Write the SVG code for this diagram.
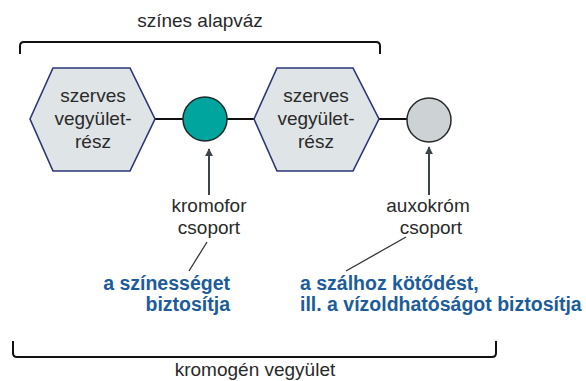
<svg xmlns="http://www.w3.org/2000/svg" width="586" height="381" viewBox="0 0 586 381">
<defs>
<style>
.lbl{font-family:"Liberation Sans",Arial,sans-serif;font-size:19px;fill:#2a2a2a;text-anchor:middle}
.blue{font-family:"Liberation Sans",Arial,sans-serif;font-size:19.5px;font-weight:bold;fill:#1d5c9b}
.hex{fill:#dfe4e6;stroke:#2b3577;stroke-width:1.6}
.br{fill:none;stroke:#111;stroke-width:2}
.con{stroke:#111;stroke-width:2}
.arr{stroke:#3b4549;stroke-width:2;fill:none}
.lead{stroke:#333;stroke-width:1.3}
</style>
<marker id="ah" viewBox="0 0 10 10" refX="9" refY="5" markerWidth="4" markerHeight="4" orient="auto" markerUnits="strokeWidth">
<path d="M0,0 L10,5 L0,10 z" fill="#3b4549"/>
</marker>
</defs>
<rect width="586" height="381" fill="#fff"/>
<g id="brackets">
<path class="br" d="M20,54 V46 Q20,42 24,42 H376 Q380,42 380,46 V54"/>
<text class="lbl" x="200" y="27">színes alapváz</text>
<path class="br" d="M13,341 V353 Q13,357 17,357 H492 Q496,357 496,353 V341"/>
<text class="lbl" x="255" y="376">kromogén vegyület</text>
</g>
<g id="connectors">
<line class="con" x1="155" y1="119" x2="183" y2="119"/>
<line class="con" x1="227" y1="119" x2="254" y2="119"/>
<line class="con" x1="379" y1="119" x2="407" y2="119"/>
<line class="arr" x1="209" y1="195" x2="209" y2="149" marker-end="url(#ah)"/>
<line class="arr" x1="429" y1="195" x2="429" y2="147" marker-end="url(#ah)"/>
<line class="lead" x1="207" y1="242" x2="189" y2="271"/>
<line class="lead" x1="406" y1="237" x2="346" y2="271"/>
</g>
<g id="hex1">
<polygon class="hex" points="30,119 53,68 130,68 155,119 130,171 53,171"/>
<text class="lbl" x="93" y="102">szerves</text>
<text class="lbl" x="93" y="125">vegyület-</text>
<text class="lbl" x="93" y="148">rész</text>
</g>
<g id="chromophore">
<circle cx="205" cy="119" r="22" fill="#00a59e" stroke="#1c2b2b" stroke-width="1.5"/>
</g>
<g id="hex2">
<polygon class="hex" points="254,119 277,68 353,68 379,119 353,171 277,171"/>
<text class="lbl" x="316" y="102">szerves</text>
<text class="lbl" x="316" y="125">vegyület-</text>
<text class="lbl" x="316" y="148">rész</text>
</g>
<g id="auxochrome">
<circle cx="429" cy="120" r="22" fill="#cdd3d5" stroke="#2a2a2a" stroke-width="1.5"/>
</g>
<g id="label-kromofor">
<text class="lbl" x="209" y="212">kromofor</text>
<text class="lbl" x="209" y="234">csoport</text>
</g>
<g id="label-auxokrom">
<text class="lbl" x="428" y="212">auxokróm</text>
<text class="lbl" x="431" y="234">csoport</text>
</g>
<g id="desc-kromofor">
<text class="blue" x="230" y="290" text-anchor="end">a színességet</text>
<text class="blue" x="230" y="311" text-anchor="end">biztosítja</text>
</g>
<g id="desc-auxokrom">
<text class="blue" x="300" y="290">a szálhoz kötődést,</text>
<text class="blue" x="300" y="311">ill. a vízoldhatóságot biztosítja</text>
</g>
</svg>
